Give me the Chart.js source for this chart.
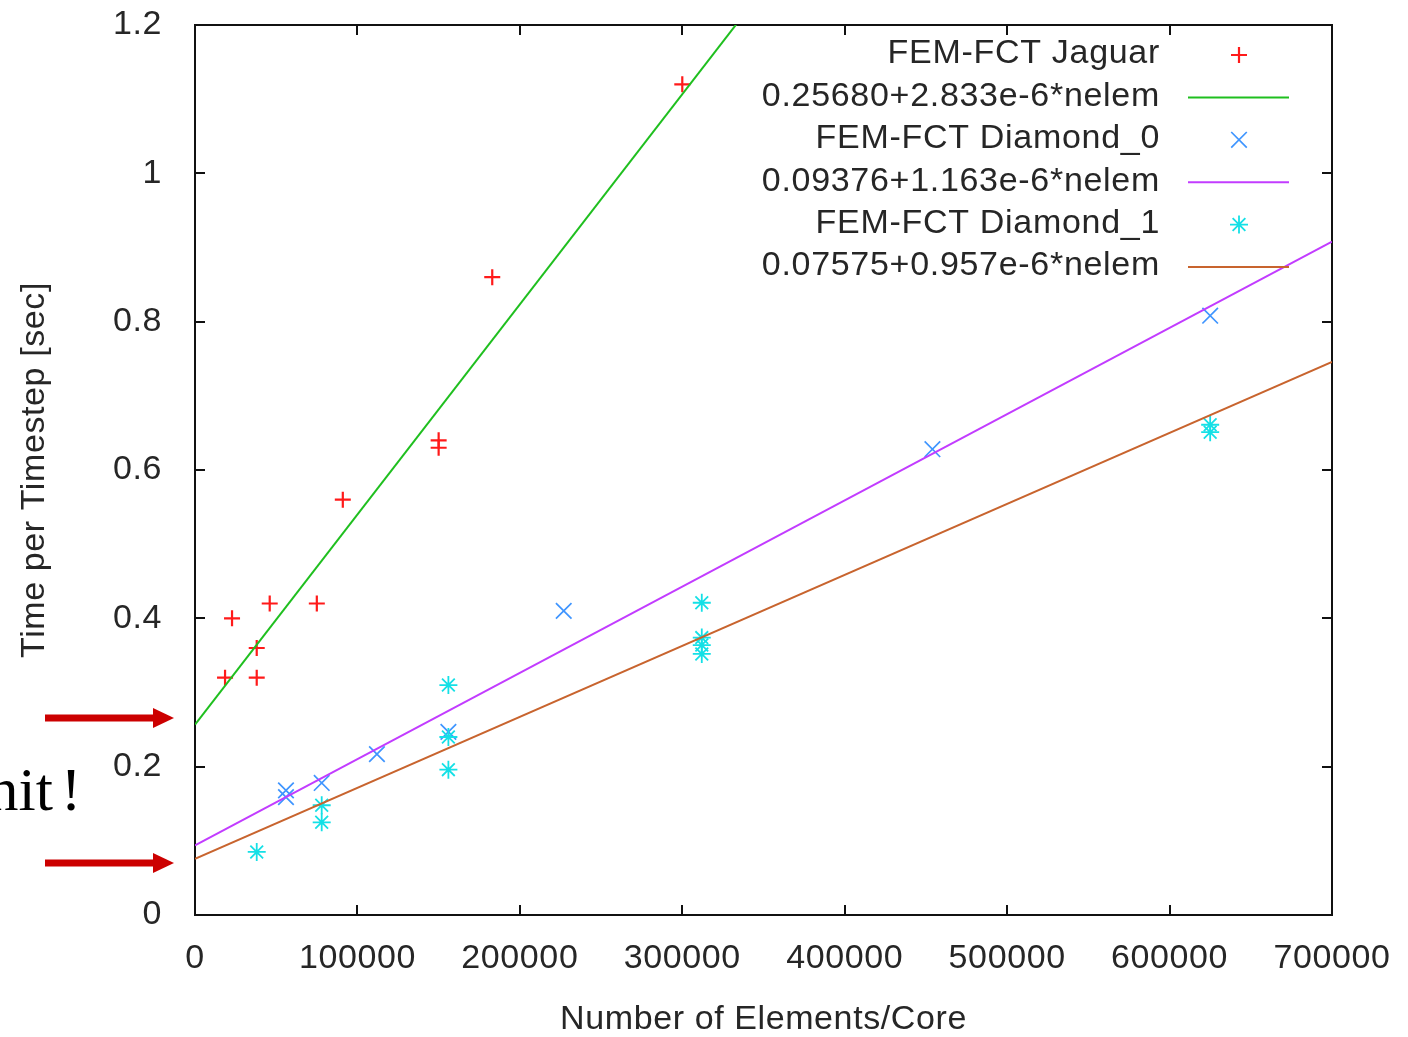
<!DOCTYPE html>
<html>
<head>
<meta charset="utf-8">
<title>Time per Timestep</title>
<script src="https://cdn.jsdelivr.net/npm/chart.js@4.4.1/dist/chart.umd.min.js"></script>
<style>
  html, body { margin: 0; padding: 0; background: #fff; }
</style>
</head>
<body>
<canvas id="timing" width="1408" height="1037"></canvas>
<script>
// tick labels
const xTickLabels = ['0', '100000', '200000', '300000', '400000', '500000', '600000', '700000'];
const yTickLabels = ['0', '0.2', '0.4', '0.6', '0.8', '1', '1.2'];

// measured timings (elements per core, seconds per timestep)
const jaguarElems = [18500, 22800, 38000, 38000, 46000, 75000, 91000, 150000, 150000, 183000, 300000];
const jaguarTime  = [0.32, 0.40, 0.36, 0.32, 0.42, 0.42, 0.56, 0.64, 0.63, 0.86, 1.12];

const diamond0Elems = [56000, 56000, 78000, 112000, 156000, 227000, 454000, 625000];
const diamond0Time  = [0.168, 0.159, 0.178, 0.217, 0.247, 0.41, 0.628, 0.808];

const diamond1Elems = [38000, 78000, 78000, 156000, 156000, 156000, 312000, 312000, 312000, 312000, 625000, 625000];
const diamond1Time  = [0.085, 0.148, 0.125, 0.31, 0.24, 0.196, 0.421, 0.374, 0.364, 0.352, 0.661, 0.651];

// linear fits: time = a + b*nelem
const fitLabels     = ['0.25680+2.833e-6*nelem', '0.09376+1.163e-6*nelem', '0.07575+0.957e-6*nelem'];
const fitIntercepts = [0.25680, 0.09376, 0.07575];
const fitSlopes     = [2.833e-6, 1.163e-6, 0.957e-6];
const fitRange      = [0, 700000];

// levels the two red arrows point at
const arrowLevels = [0.26, 0.065];

const FONT = '"Liberation Sans", Arial, sans-serif';
const TEXT = '#262626';

function pts(xs, ys) {
  return xs.map((x, i) => ({ x: x, y: ys[i] }));
}
function fitLine(k) {
  return fitRange.map(x => ({ x: x, y: fitIntercepts[k] + fitSlopes[k] * x }));
}

const pointSet = (label, xs, ys, color, style, r, w) => ({
  label: label, data: pts(xs, ys), showLine: false,
  pointStyle: style, pointRadius: r, pointHoverRadius: r,
  borderColor: color, backgroundColor: color, pointBorderWidth: w
});
const lineSet = (k, color) => ({
  label: fitLabels[k], data: fitLine(k), showLine: true,
  borderColor: color, backgroundColor: color, borderWidth: 2,
  pointRadius: 0, pointHoverRadius: 0
});

const datasets = [
  pointSet('FEM-FCT Jaguar', jaguarElems, jaguarTime, '#ff1a1a', 'cross', 8, 2.2),
  lineSet(0, '#1fbf1f'),
  pointSet('FEM-FCT Diamond_0', diamond0Elems, diamond0Time, '#3f95ff', 'crossRot', 11, 1.7),
  lineSet(1, '#c23cff'),
  pointSet('FEM-FCT Diamond_1', diamond1Elems, diamond1Time, '#14e0e6', 'star', 9, 1.8),
  lineSet(2, '#c8642e')
];
// later series are painted over earlier ones
datasets.forEach((d, i) => { d.order = datasets.length - i; });

// box around the plot with inward ticks on all four sides
const framePlugin = {
  id: 'frame',
  beforeDraw(chart) {
    chart.ctx.letterSpacing = '0.6px';
  },
  beforeDatasetsDraw(chart) {
    const { ctx, chartArea: a, scales } = chart;
    ctx.save();
    ctx.strokeStyle = '#111';
    ctx.lineWidth = 2;
    ctx.strokeRect(a.left, a.top, a.right - a.left, a.bottom - a.top);
    ctx.beginPath();
    scales.x.ticks.forEach(t => {
      const px = Math.round(scales.x.getPixelForValue(t.value));
      ctx.moveTo(px, a.bottom); ctx.lineTo(px, a.bottom - 10);
      ctx.moveTo(px, a.top); ctx.lineTo(px, a.top + 10);
    });
    scales.y.ticks.forEach(t => {
      const py = Math.round(scales.y.getPixelForValue(t.value));
      ctx.moveTo(a.left, py); ctx.lineTo(a.left + 10, py);
      ctx.moveTo(a.right, py); ctx.lineTo(a.right - 10, py);
    });
    ctx.stroke();
    ctx.restore();
  }
};

function drawMarker(ctx, style, r, x, y) {
  ctx.beginPath();
  if (style === 'cross' || style === 'star') {
    ctx.moveTo(x - r, y); ctx.lineTo(x + r, y);
    ctx.moveTo(x, y - r); ctx.lineTo(x, y + r);
  }
  if (style === 'crossRot' || style === 'star') {
    const d = r * Math.SQRT1_2;
    ctx.moveTo(x - d, y - d); ctx.lineTo(x + d, y + d);
    ctx.moveTo(x - d, y + d); ctx.lineTo(x + d, y - d);
  }
  ctx.stroke();
}

// gnuplot-style key: right-aligned text with the sample to its right
const keyPlugin = {
  id: 'key',
  afterDatasetsDraw(chart) {
    const ctx = chart.ctx;
    ctx.save();
    ctx.font = '34px ' + FONT;
    ctx.letterSpacing = '0.7px';
    ctx.textAlign = 'right';
    ctx.textBaseline = 'middle';
    chart.data.datasets.forEach((d, i) => {
      const y = 54 + i * 42.4;
      ctx.fillStyle = TEXT;
      ctx.fillText(d.label, 1160, y);
      ctx.strokeStyle = d.borderColor;
      if (d.showLine) {
        ctx.lineWidth = 2;
        ctx.beginPath();
        ctx.moveTo(1188, y + 1); ctx.lineTo(1289, y + 1);
        ctx.stroke();
      } else {
        ctx.lineWidth = d.pointBorderWidth;
        drawMarker(ctx, d.pointStyle, d.pointRadius, 1239, y + 1);
      }
    });
    ctx.restore();
  }
};

// red arrows and the slide text beside the axis
const notePlugin = {
  id: 'note',
  afterDraw(chart) {
    const ctx = chart.ctx;
    const ys = chart.scales.y;
    ctx.save();
    ctx.fillStyle = '#cc0000';
    arrowLevels.forEach(v => {
      const y = Math.round(ys.getPixelForValue(v)) - 4;
      ctx.fillRect(45, y - 3.5, 110, 7);
      ctx.beginPath();
      ctx.moveTo(153, y - 10);
      ctx.lineTo(174, y);
      ctx.lineTo(153, y + 10);
      ctx.closePath();
      ctx.fill();
    });
    ctx.fillStyle = '#000';
    ctx.letterSpacing = '0px';
    ctx.font = '62px "Liberation Serif", "Times New Roman", serif';
    ctx.textBaseline = 'alphabetic';
    ctx.textAlign = 'right';
    ctx.fillText('nit', 53, 810);
    ctx.textAlign = 'center';
    ctx.fillText('!', 71, 810);
    ctx.restore();
  }
};

new Chart(document.getElementById('timing'), {
  type: 'scatter',
  data: { datasets: datasets },
  plugins: [framePlugin, keyPlugin, notePlugin],
  options: {
    responsive: false,
    animation: false,
    events: [],
    layout: { padding: { left: 0, right: 76, top: 25, bottom: 0 } },
    plugins: {
      legend: { display: false },
      tooltip: { enabled: false }
    },
    scales: {
      x: {
        type: 'linear',
        min: 0, max: 700000,
        afterFit(s) { s.height = 122; s.paddingLeft = 0; s.paddingRight = 0; },
        grid: { display: false, drawTicks: false },
        border: { display: false },
        ticks: {
          stepSize: 100000,
          padding: 27,
          color: TEXT,
          font: { family: FONT, size: 34, lineHeight: 1 },
          maxRotation: 0,
          autoSkip: false,
          callback: (v, i) => xTickLabels[i]
        },
        title: {
          display: true,
          text: 'Number of Elements/Core',
          color: TEXT,
          font: { family: FONT, size: 34, lineHeight: 1 },
          padding: { top: 0, bottom: 0 }
        }
      },
      y: {
        type: 'linear',
        min: 0, max: 1.2,
        afterFit(s) { s.width = 195; s.paddingTop = 0; s.paddingBottom = 0; },
        grid: { display: false, drawTicks: false },
        border: { display: false },
        ticks: {
          stepSize: 0.2,
          padding: 33,
          color: TEXT,
          font: { family: FONT, size: 34, lineHeight: 1 },
          autoSkip: false,
          callback: (v, i) => yTickLabels[i]
        },
        title: {
          display: true,
          text: 'Time per Timestep [sec]',
          color: TEXT,
          font: { family: FONT, size: 34, lineHeight: 1 },
          padding: { top: 18, bottom: 0 }
        }
      }
    }
  }
});
</script>
</body>
</html>
